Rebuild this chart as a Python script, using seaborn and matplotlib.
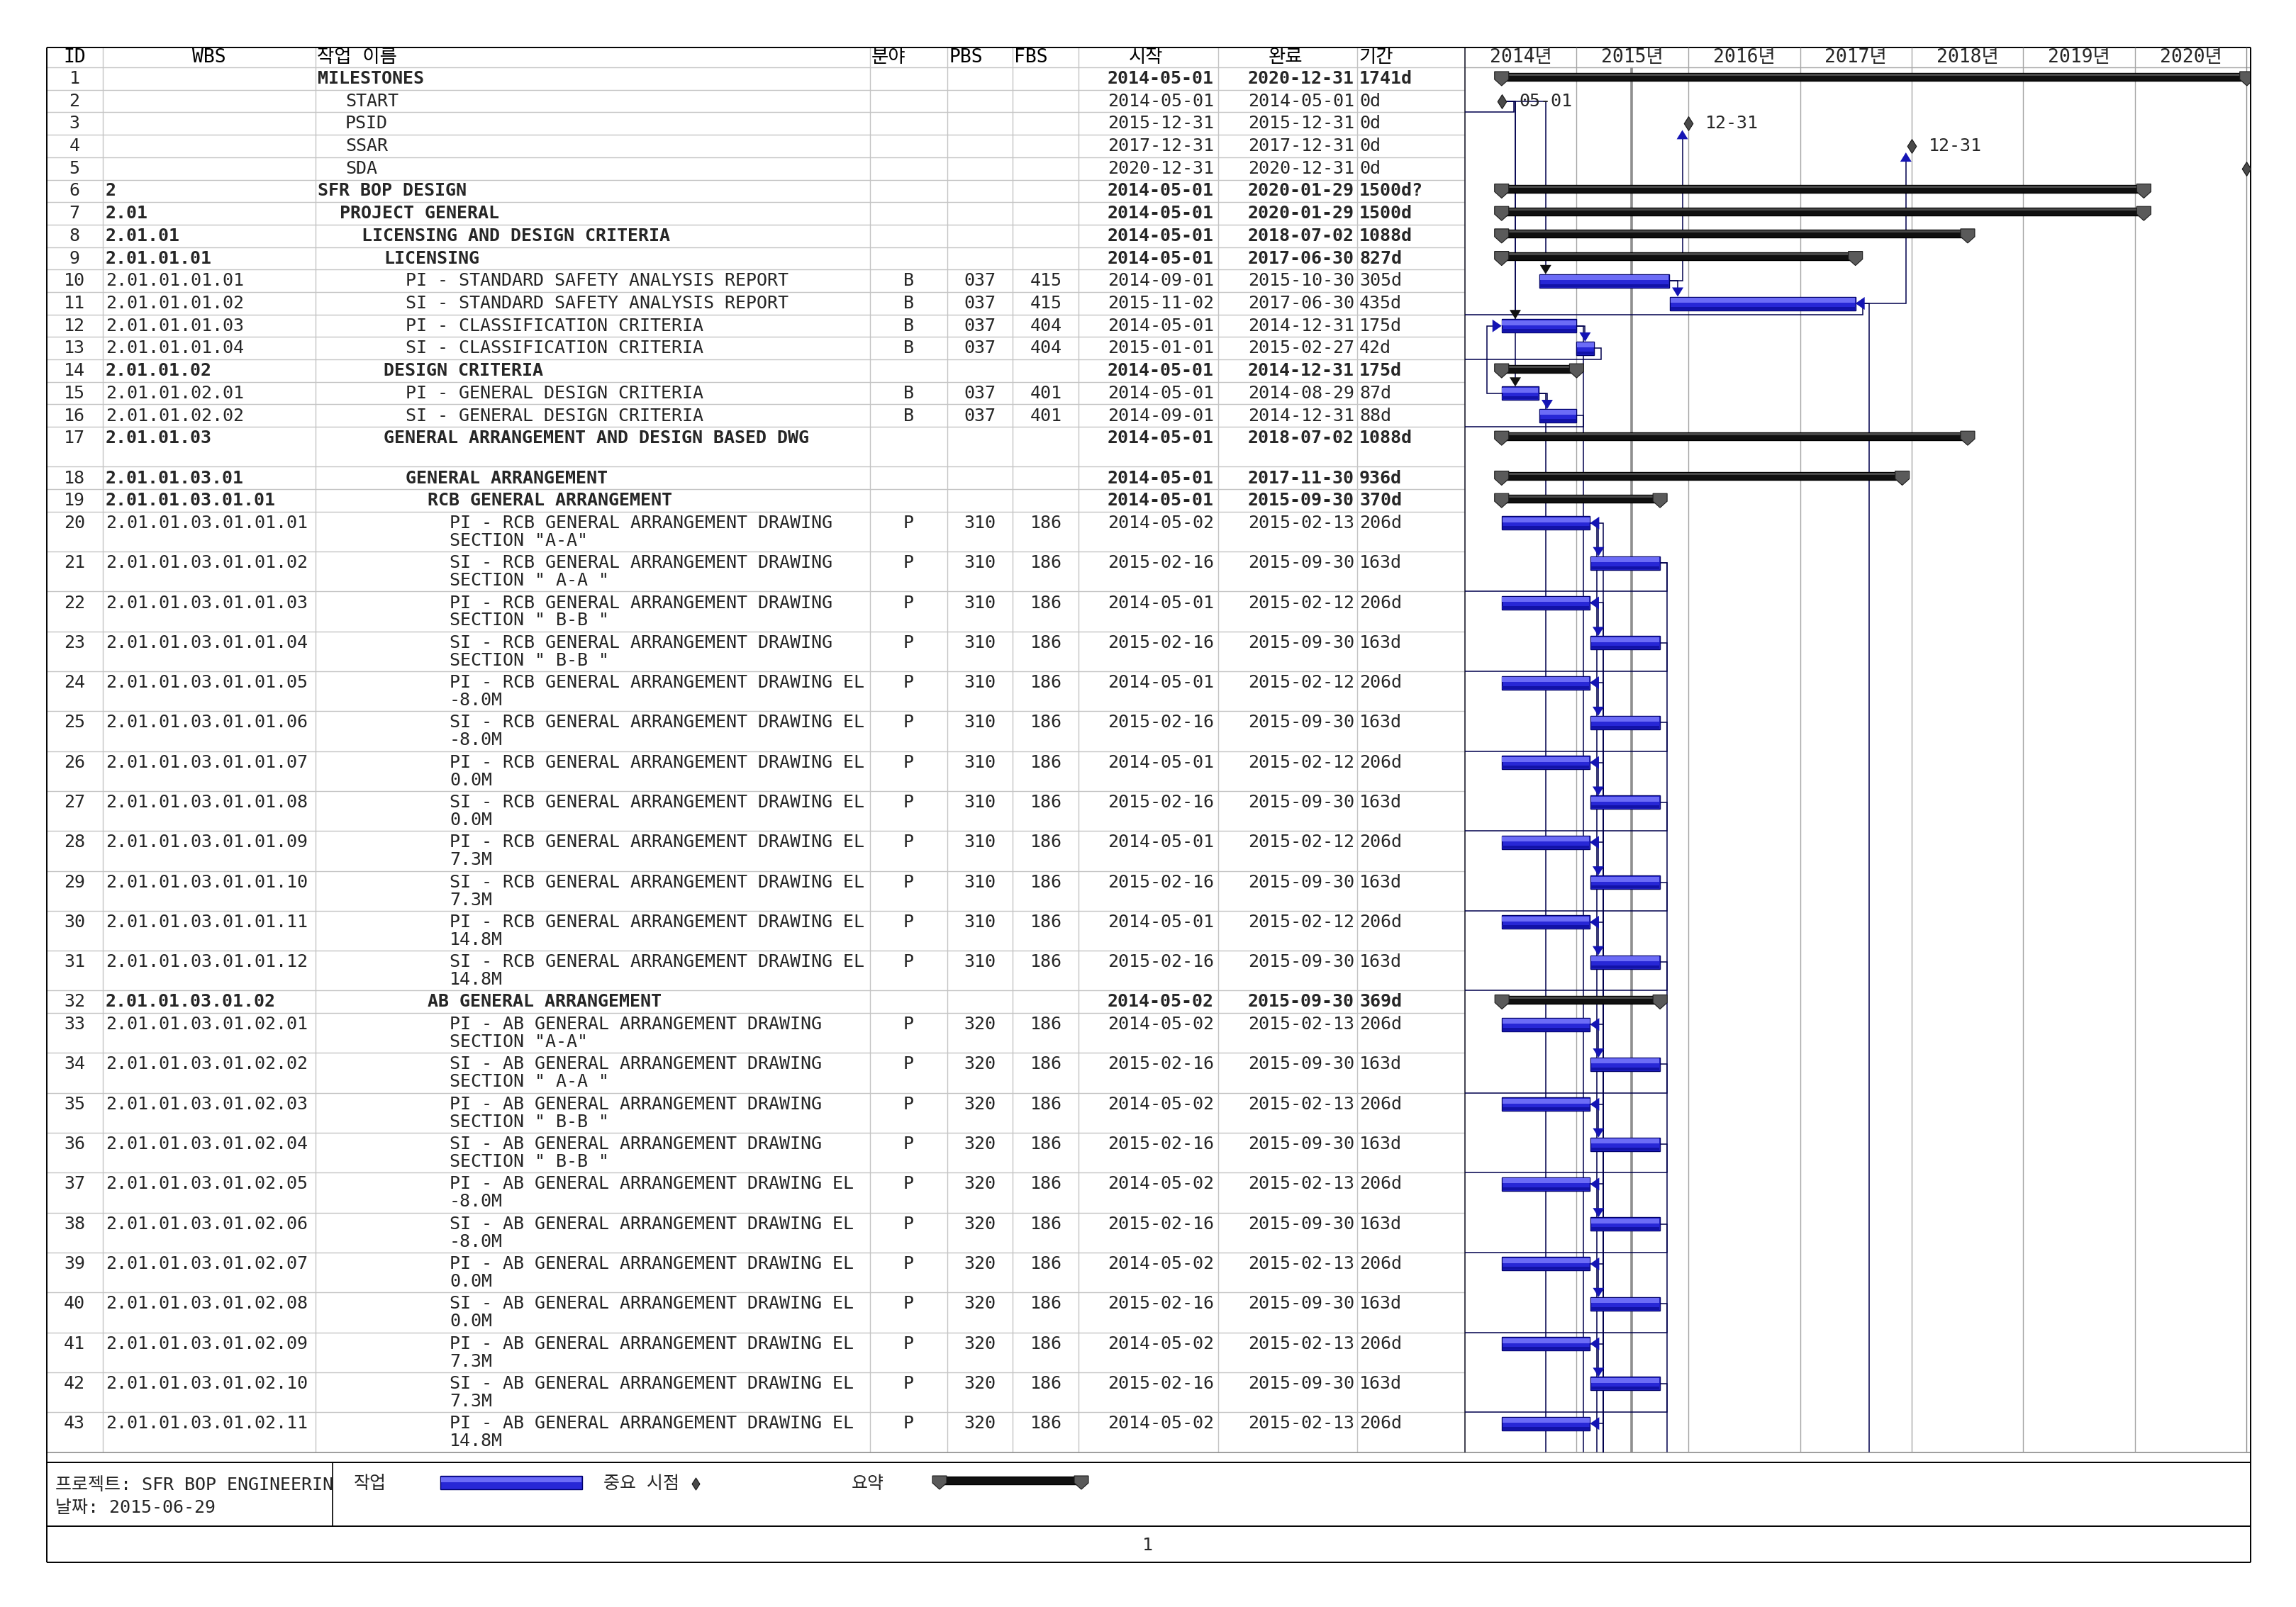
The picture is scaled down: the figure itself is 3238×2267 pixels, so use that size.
import matplotlib
matplotlib.use('Agg')
import numpy as np
import pandas as pd
import matplotlib.pyplot as plt
import matplotlib.dates as mdates
from matplotlib.path import Path
import seaborn as sns

# ---------------- data ----------------
task_ids = [1, 2, 3, 4, 5, 6, 7, 8, 9, 10, 11, 12, 13, 14, 15, 16, 17, 18, 19, 20,
            21, 22, 23, 24, 25, 26, 27, 28, 29, 30, 31, 32, 33, 34, 35, 36, 37, 38, 39, 40,
            41, 42, 43]

wbs = ["", "", "", "", "", "2", "2.01", "2.01.01", "2.01.01.01",
       "2.01.01.01.01", "2.01.01.01.02", "2.01.01.01.03", "2.01.01.01.04",
       "2.01.01.02", "2.01.01.02.01", "2.01.01.02.02", "2.01.01.03",
       "2.01.01.03.01", "2.01.01.03.01.01",
       "2.01.01.03.01.01.01", "2.01.01.03.01.01.02", "2.01.01.03.01.01.03",
       "2.01.01.03.01.01.04", "2.01.01.03.01.01.05", "2.01.01.03.01.01.06",
       "2.01.01.03.01.01.07", "2.01.01.03.01.01.08", "2.01.01.03.01.01.09",
       "2.01.01.03.01.01.10", "2.01.01.03.01.01.11", "2.01.01.03.01.01.12",
       "2.01.01.03.01.02",
       "2.01.01.03.01.02.01", "2.01.01.03.01.02.02", "2.01.01.03.01.02.03",
       "2.01.01.03.01.02.04", "2.01.01.03.01.02.05", "2.01.01.03.01.02.06",
       "2.01.01.03.01.02.07", "2.01.01.03.01.02.08", "2.01.01.03.01.02.09",
       "2.01.01.03.01.02.10", "2.01.01.03.01.02.11"]

task_names = [
    "MILESTONES", "START", "PSID", "SSAR", "SDA",
    "SFR BOP DESIGN", "PROJECT GENERAL", "LICENSING AND DESIGN CRITERIA", "LICENSING",
    "PI - STANDARD SAFETY ANALYSIS REPORT", "SI - STANDARD SAFETY ANALYSIS REPORT",
    "PI - CLASSIFICATION CRITERIA", "SI - CLASSIFICATION CRITERIA",
    "DESIGN CRITERIA", "PI - GENERAL DESIGN CRITERIA", "SI - GENERAL DESIGN CRITERIA",
    "GENERAL ARRANGEMENT AND DESIGN BASED DWG", "GENERAL ARRANGEMENT", "RCB GENERAL ARRANGEMENT",
    'PI - RCB GENERAL ARRANGEMENT DRAWING\nSECTION "A-A"',
    'SI - RCB GENERAL ARRANGEMENT DRAWING\nSECTION " A-A "',
    'PI - RCB GENERAL ARRANGEMENT DRAWING\nSECTION " B-B "',
    'SI - RCB GENERAL ARRANGEMENT DRAWING\nSECTION " B-B "',
    "PI - RCB GENERAL ARRANGEMENT DRAWING EL\n-8.0M",
    "SI - RCB GENERAL ARRANGEMENT DRAWING EL\n-8.0M",
    "PI - RCB GENERAL ARRANGEMENT DRAWING EL\n0.0M",
    "SI - RCB GENERAL ARRANGEMENT DRAWING EL\n0.0M",
    "PI - RCB GENERAL ARRANGEMENT DRAWING EL\n7.3M",
    "SI - RCB GENERAL ARRANGEMENT DRAWING EL\n7.3M",
    "PI - RCB GENERAL ARRANGEMENT DRAWING EL\n14.8M",
    "SI - RCB GENERAL ARRANGEMENT DRAWING EL\n14.8M",
    "AB GENERAL ARRANGEMENT",
    'PI - AB GENERAL ARRANGEMENT DRAWING\nSECTION "A-A"',
    'SI - AB GENERAL ARRANGEMENT DRAWING\nSECTION " A-A "',
    'PI - AB GENERAL ARRANGEMENT DRAWING\nSECTION " B-B "',
    'SI - AB GENERAL ARRANGEMENT DRAWING\nSECTION " B-B "',
    "PI - AB GENERAL ARRANGEMENT DRAWING EL\n-8.0M",
    "SI - AB GENERAL ARRANGEMENT DRAWING EL\n-8.0M",
    "PI - AB GENERAL ARRANGEMENT DRAWING EL\n0.0M",
    "SI - AB GENERAL ARRANGEMENT DRAWING EL\n0.0M",
    "PI - AB GENERAL ARRANGEMENT DRAWING EL\n7.3M",
    "SI - AB GENERAL ARRANGEMENT DRAWING EL\n7.3M",
    "PI - AB GENERAL ARRANGEMENT DRAWING EL\n14.8M",
]

outline_level = [0, 1, 1, 1, 1, 0, 1, 2, 3, 4, 4, 4, 4, 3, 4, 4, 3, 4, 5,
                 6, 6, 6, 6, 6, 6, 6, 6, 6, 6, 6, 6, 5,
                 6, 6, 6, 6, 6, 6, 6, 6, 6, 6, 6]

# S = summary, M = milestone, T = task
task_kind = ["S", "M", "M", "M", "M", "S", "S", "S", "S", "T", "T", "T", "T", "S", "T", "T",
             "S", "S", "S", "T", "T", "T", "T", "T", "T", "T", "T", "T", "T", "T", "T", "S",
             "T", "T", "T", "T", "T", "T", "T", "T", "T", "T", "T"]

row_lines = [1, 1, 1, 1, 1, 1, 1, 1, 1, 1, 1, 1, 1, 1, 1, 1, 2, 1, 1,
             2, 2, 2, 2, 2, 2, 2, 2, 2, 2, 2, 2, 1,
             2, 2, 2, 2, 2, 2, 2, 2, 2, 2, 2]

field = ["", "", "", "", "", "", "", "", "", "B", "B", "B", "B", "", "B", "B", "", "", "",
         "P", "P", "P", "P", "P", "P", "P", "P", "P", "P", "P", "P", "",
         "P", "P", "P", "P", "P", "P", "P", "P", "P", "P", "P"]
pbs = ["", "", "", "", "", "", "", "", "", "037", "037", "037", "037", "", "037", "037", "", "", "",
       "310", "310", "310", "310", "310", "310", "310", "310", "310", "310", "310", "310", "",
       "320", "320", "320", "320", "320", "320", "320", "320", "320", "320", "320"]
fbs = ["", "", "", "", "", "", "", "", "", "415", "415", "404", "404", "", "401", "401", "", "", "",
       "186", "186", "186", "186", "186", "186", "186", "186", "186", "186", "186", "186", "",
       "186", "186", "186", "186", "186", "186", "186", "186", "186", "186", "186"]

start_dates = [
    "2014-05-01", "2014-05-01", "2015-12-31", "2017-12-31", "2020-12-31",
    "2014-05-01", "2014-05-01", "2014-05-01", "2014-05-01",
    "2014-09-01", "2015-11-02", "2014-05-01", "2015-01-01",
    "2014-05-01", "2014-05-01", "2014-09-01", "2014-05-01", "2014-05-01", "2014-05-01",
    "2014-05-02", "2015-02-16", "2014-05-01", "2015-02-16", "2014-05-01", "2015-02-16",
    "2014-05-01", "2015-02-16", "2014-05-01", "2015-02-16", "2014-05-01", "2015-02-16",
    "2014-05-02",
    "2014-05-02", "2015-02-16", "2014-05-02", "2015-02-16", "2014-05-02", "2015-02-16",
    "2014-05-02", "2015-02-16", "2014-05-02", "2015-02-16", "2014-05-02"]
finish_dates = [
    "2020-12-31", "2014-05-01", "2015-12-31", "2017-12-31", "2020-12-31",
    "2020-01-29", "2020-01-29", "2018-07-02", "2017-06-30",
    "2015-10-30", "2017-06-30", "2014-12-31", "2015-02-27",
    "2014-12-31", "2014-08-29", "2014-12-31", "2018-07-02", "2017-11-30", "2015-09-30",
    "2015-02-13", "2015-09-30", "2015-02-12", "2015-09-30", "2015-02-12", "2015-09-30",
    "2015-02-12", "2015-09-30", "2015-02-12", "2015-09-30", "2015-02-12", "2015-09-30",
    "2015-09-30",
    "2015-02-13", "2015-09-30", "2015-02-13", "2015-09-30", "2015-02-13", "2015-09-30",
    "2015-02-13", "2015-09-30", "2015-02-13", "2015-09-30", "2015-02-13"]
durations = ["1741d", "0d", "0d", "0d", "0d", "1500d?", "1500d", "1088d", "827d",
             "305d", "435d", "175d", "42d", "175d", "87d", "88d", "1088d", "936d", "370d",
             "206d", "163d", "206d", "163d", "206d", "163d", "206d", "163d", "206d", "163d",
             "206d", "163d", "369d",
             "206d", "163d", "206d", "163d", "206d", "163d", "206d", "163d", "206d", "163d", "206d"]

milestone_labels = ["", "05-01", "12-31", "12-31", "12-31"]

# predecessor -> successor links (None = link leaves the printed page)
base_links = [(2, 10, "FS"), (2, 12, "FS"), (2, 15, "FS"), (2, None, "OUT"),
              (10, 11, "FS"), (10, 3, "UP"), (11, 4, "UP"), (None, 11, "FF"), (11, None, "OUT"),
              (12, 13, "FS"), (12, None, "PAGE"), (13, None, "OUT"),
              (15, 16, "FS"), (15, 12, "SS"), (15, None, "PAGE"), (16, None, "OUT"),
              (20, None, "PAGE"), (21, None, "PAGE"), (None, 43, "FF")]
pi_si_pairs = [(20, 21), (22, 23), (24, 25), (26, 27), (28, 29), (30, 31),
               (33, 34), (35, 36), (37, 38), (39, 40), (41, 42)]

year_labels = ["2014년", "2015년", "2016년", "2017년", "2018년", "2019년", "2020년"]
year_starts = ["2014-01-01", "2015-01-01", "2016-01-01", "2017-01-01", "2018-01-01",
               "2019-01-01", "2020-01-01", "2021-01-01"]
status_date = "2015-06-29"
headers = ["ID", "WBS", "작업 이름", "분야", "PBS", "FBS", "시작", "완료", "기간"]
project_text = "프로젝트: SFR BOP ENGINEERIN"
date_text = "날짜: 2015-06-29"
legend_labels = ["작업", "중요 시점", "요약"]

# ---------------- style ----------------
sns.set_theme(style="white")
FAM = ["DejaVu Sans Mono", "Noto Sans CJK KR"]
plt.rcParams["font.family"] = FAM
FS = 18
W, H = 3238, 2267
TOP, HDR = 67, 95
H1, H2 = 31.7, 56.3
GX0, GX1 = 2066, 3173
GRID = "#c4c4c4"
LINK = "#00004d"
BLUE_ARW = "#1414b4"

fig = plt.figure(figsize=(W / 100, H / 100), dpi=100)
ax = fig.add_axes([0, 0, 1, 1])
ax.set_xlim(0, W)
ax.set_ylim(H, 0)
ax.axis("off")

heights = np.array([H1 if n == 1 else H2 for n in row_lines])
tops = HDR + np.concatenate([[0.0], np.cumsum(heights)[:-1]])
BOTTOM = HDR + heights.sum()
yc = tops + 16

# ---------------- table grid ----------------
col_x = [145, 445, 1227, 1336, 1428, 1521, 1718, 1914]
ax.vlines(col_x, TOP, BOTTOM, color=GRID, lw=1, zorder=1)
ax.hlines(np.append(tops[1:], HDR), 66, GX0, color=GRID, lw=1, zorder=1)
ax.hlines(HDR, GX0, 3174, color="#a8a8a8", lw=1, zorder=1)
ax.hlines(BOTTOM, 66, 3174, color="#8c8c8c", lw=1.2, zorder=1)
ax.vlines(GX0, TOP, BOTTOM, color="#303040", lw=1.3, zorder=3)
# outer frame and footer boxes
ax.hlines([TOP, 2063, 2153, 2204], 66, 3174, color="black", lw=1.4, zorder=4)
ax.vlines([66, 3174], TOP, 2204, color="black", lw=1.4, zorder=4)
ax.vlines(469, 2063, 2153, color="black", lw=1.2, zorder=4)

# headers
hdr_pos = [(105, "center"), (295, "center"), (447, "left"), (1229, "left"), (1338, "left"),
           (1430, "left"), (1616, "center"), (1813, "center"), (1916, "left")]
for (x, ha), lab in zip(hdr_pos, headers):
    ax.text(x, 81, lab, ha=ha, va="center", fontsize=FS + 1, color="black")

# rows
for k in range(len(task_ids)):
    t = tops[k]
    fw = "bold" if task_kind[k] == "S" else "normal"
    ax.text(105, t + 16, str(task_ids[k]), ha="center", va="center", fontsize=FS)
    ax.text(149, t + 16, wbs[k], ha="left", va="center", fontsize=FS, fontweight=fw)
    indent = 448 + 31 * outline_level[k] + (8 if task_kind[k] == "M" else 0)
    for li, line in enumerate(task_names[k].split("\n")):
        ax.text(indent, t + 16 + 25 * li, line, ha="left", va="center",
                fontsize=FS, fontweight=fw)
    ax.text(1281, t + 16, field[k], ha="center", va="center", fontsize=FS)
    ax.text(1382, t + 16, pbs[k], ha="center", va="center", fontsize=FS)
    ax.text(1475, t + 16, fbs[k], ha="center", va="center", fontsize=FS)
    ax.text(1712, t + 16, start_dates[k], ha="right", va="center", fontsize=FS, fontweight=fw)
    ax.text(1910, t + 16, finish_dates[k], ha="right", va="center", fontsize=FS, fontweight=fw)
    ax.text(1917, t + 16, durations[k], ha="left", va="center", fontsize=FS, fontweight=fw)

# ---------------- gantt ----------------
axg = fig.add_axes([GX0 / W, 1 - BOTTOM / H, (GX1 - GX0) / W, (BOTTOM - HDR) / H])
d0 = mdates.date2num(pd.Timestamp("2014-01-01"))
d1 = mdates.date2num(pd.Timestamp("2021-01-11"))
dpp = (d1 - d0) / (GX1 - GX0)


def px(n):
    return n * dpp


s_num = mdates.date2num(pd.to_datetime(start_dates))
f_num = mdates.date2num(pd.to_datetime(finish_dates)) + 1
m_num = mdates.date2num(pd.to_datetime(finish_dates)) + 0.5
kind = np.array(task_kind)

# milestones (seaborn scatter)
diamond = Path([(0, -1), (0.64, 0), (0, 1), (-0.64, 0), (0, -1)],
               [Path.MOVETO, Path.LINETO, Path.LINETO, Path.LINETO, Path.CLOSEPOLY])
mm = kind == "M"
ms_df = pd.DataFrame({"x": m_num[mm], "y": yc[mm]})
sns.scatterplot(data=ms_df, x="x", y="y", marker=diamond, s=200, color="#4a4a4a",
                edgecolor="#151515", linewidth=0.8, ax=axg, zorder=4, legend=False)
axg.set_xlim(d0, d1)
axg.set_ylim(BOTTOM, HDR)
axg.axis("off")

ys = mdates.date2num(pd.to_datetime(year_starts))
axg.vlines(ys[1:-1], TOP, BOTTOM, color="#a6a6a6", lw=1, zorder=1, clip_on=False)
axg.vlines(ys[-1] - px(1), TOP, BOTTOM, color="#8c8c8c", lw=1, zorder=1, clip_on=False)
for y0_, y1_, lab in zip(ys[:-1], ys[1:], year_labels):
    axg.text((y0_ + y1_) / 2, 81, lab, ha="center", va="center", fontsize=FS + 1, clip_on=False)
axg.axvline(mdates.date2num(pd.Timestamp(status_date)), color="#8f8f8f", lw=2.6, zorder=1)

for i in np.where(mm)[0]:
    lx = m_num[i] + px(24)
    if lx + px(80) < d1:   # labels past the timescale edge are not printed
        axg.text(lx, yc[i], milestone_labels[i], ha="left", va="center",
                 fontsize=FS, zorder=4)


def end_x(i):
    return m_num[i] + px(7) if kind[i] == "M" else f_num[i]


# task bars
tm = kind == "T"
axg.barh(yc[tm], f_num[tm] - s_num[tm], left=s_num[tm], height=19, color="#2727d6",
         edgecolor="#00006a", lw=1.0, zorder=3)
axg.barh(yc[tm] - 4.5, f_num[tm] - s_num[tm] - px(1.5), left=s_num[tm] + px(0.75), height=7,
         color="#6c6cf6", lw=0, zorder=3.1)
axg.barh(yc[tm] + 6.5, f_num[tm] - s_num[tm] - px(1.5), left=s_num[tm] + px(0.75), height=4,
         color="#1212a8", lw=0, zorder=3.1)

# summary bars
sm = kind == "S"
axg.barh(tops[sm] + 13, f_num[sm] - s_num[sm], left=s_num[sm], height=11, color="#101010",
         edgecolor="black", lw=1, zorder=3)
axg.barh(tops[sm] + 10, f_num[sm] - s_num[sm], left=s_num[sm], height=3, color="#474747",
         lw=0, zorder=3.1)
for i in np.where(sm)[0]:
    for x in (s_num[i], f_num[i]):
        cx = [x - px(10), x + px(10), x + px(10), x, x - px(10)]
        cy = [tops[i] + 6, tops[i] + 6, tops[i] + 17, tops[i] + 26, tops[i] + 17]
        axg.fill(cx, cy, color="#5a5a5a", ec="#1a1a1a", lw=0.8, zorder=3.2)


# links
def seg(xs, ys_):
    axg.plot(xs, ys_, color=LINK, lw=1.1, zorder=2, solid_joinstyle="miter")


def tri(xs, ys_, color):
    axg.fill(xs, ys_, color=color, lw=0, zorder=5)


links = list(base_links)
for a, b in pi_si_pairs:
    links += [(a, b, "FS"), (None, a, "FF"), (b, None, "OUT")]

for p, s, lk in links:
    if lk == "FS":
        i, j = p - 1, s - 1
        x0 = end_x(i)
        xa = max(s_num[j] + px(9), x0 + px(12))
        yt = yc[j] - 9.5
        seg([x0, xa, xa], [yc[i], yc[i], yt - 12])
        tri([xa - px(8), xa + px(8), xa], [yt - 13, yt - 13, yt],
            "#111111" if kind[i] == "M" else BLUE_ARW)
    elif lk == "UP":
        i, j = p - 1, s - 1
        xa = m_num[j] - px(8)
        yt = yc[j] + 9
        seg([f_num[i], xa, xa], [yc[i], yc[i], yt + 12])
        tri([xa - px(8), xa + px(8), xa], [yt + 13, yt + 13, yt], BLUE_ARW)
    elif lk == "FF":
        j = s - 1
        xt = f_num[j] + px(19)
        seg([xt, xt, f_num[j] + px(10)], [BOTTOM, yc[j], yc[j]])
        tri([f_num[j] + px(13), f_num[j] + px(13), f_num[j]], [yc[j] - 9, yc[j] + 9, yc[j]],
            BLUE_ARW)
    elif lk == "SS":
        i, j = p - 1, s - 1
        xt = s_num[j] - px(21)
        seg([s_num[i], xt, xt, s_num[j] - px(10)], [yc[i], yc[i], yc[j], yc[j]])
        tri([s_num[j] - px(13), s_num[j] - px(13), s_num[j]], [yc[j] - 9, yc[j] + 9, yc[j]],
            BLUE_ARW)
    elif lk == "OUT":
        i = p - 1
        x0 = end_x(i)
        xh = x0 + px(10)
        yb = tops[i] + heights[i]
        seg([x0, xh, xh, d0 - px(40)], [yc[i], yc[i], yb, yb])
    elif lk == "PAGE":
        i = p - 1
        x0 = end_x(i)
        xp = x0 + px(10)
        seg([x0, xp, xp], [yc[i], yc[i], BOTTOM])

# ---------------- footer / legend ----------------
ax.text(78, 2095, project_text, ha="left", va="center", fontsize=FS)
ax.text(78, 2127, date_text, ha="left", va="center", fontsize=FS)
ax.text(499, 2093, legend_labels[0], ha="left", va="center", fontsize=FS)
ax.barh(2091.5, 200, left=621, height=19, color="#2727d6", edgecolor="#00006a", lw=1)
ax.barh(2087, 198, left=622, height=7, color="#6c6cf6", lw=0)
ax.text(851, 2093, legend_labels[1], ha="left", va="center", fontsize=FS)
ax.scatter([981], [2093], marker=diamond, s=150, color="#4a4a4a", edgecolor="#151515",
           linewidth=0.8, zorder=4)
ax.text(1201, 2093, legend_labels[2], ha="left", va="center", fontsize=FS)
ax.barh(2088, 200, left=1325, height=11, color="#101010", edgecolor="black", lw=1)
for x in (1325, 1525):
    ax.fill([x - 10, x + 10, x + 10, x, x - 10], [2082, 2082, 2092, 2101, 2092],
            color="#5a5a5a", ec="#1a1a1a", lw=0.8, zorder=3)
ax.text(1618, 2180, "1", ha="center", va="center", fontsize=FS)

fig.savefig("out.png", dpi=100, facecolor="white")
